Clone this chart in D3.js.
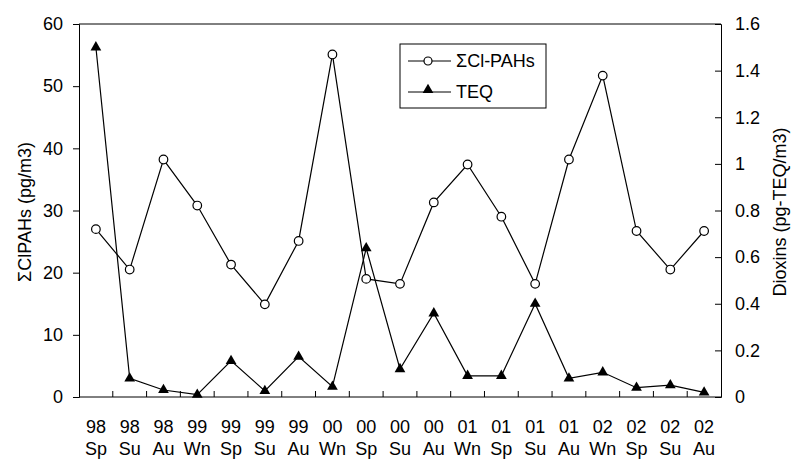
<!DOCTYPE html>
<html>
<head>
<meta charset="utf-8">
<script src="https://cdn.jsdelivr.net/npm/d3@7"></script>
<style>
  body { margin: 0; background: #fff; }
  svg text { font-family: "Liberation Sans", Arial, sans-serif; fill: #000; }
</style>
</head>
<body>
<div id="chart"></div>
<script>
var years   = ["98","98","98","99","99","99","99","00","00","00","00","01","01","01","01","02","02","02","02"]
var seasons = ["Sp","Su","Au","Wn","Sp","Su","Au","Wn","Sp","Su","Au","Wn","Sp","Su","Au","Wn","Sp","Su","Au"]
var clpahs  = [27, 20.5, 38.2, 30.8, 21.3, 14.9, 25.1, 55.1, 19.0, 18.2, 31.3, 37.4, 29.0, 18.2, 38.2, 51.7, 26.7, 20.5, 26.7]
var teq     = [1.5, 0.08, 0.03, 0.01, 0.155, 0.026, 0.173, 0.044, 0.638, 0.12, 0.359, 0.091, 0.091, 0.4, 0.08, 0.106, 0.04, 0.051, 0.02]
var leftTicks  = [0, 10, 20, 30, 40, 50, 60]
var rightTicks = [0, 0.2, 0.4, 0.6, 0.8, 1, 1.2, 1.4, 1.6]

var width = 792, height = 459
var margin = {top: 24, right: 71, bottom: 62, left: 79}
var w = width - margin.left - margin.right,
    h = height - margin.top - margin.bottom

var svg = d3.select("#chart").append("svg")
    .attr("width", width).attr("height", height)
var g = svg.append("g")
    .attr("transform", "translate(" + margin.left + "," + margin.top + ")")

var idx = d3.range(years.length)
var x = d3.scaleBand().domain(idx).range([0, w])
var yL = d3.scaleLinear().domain([0, 60]).range([h, 0])
var yR = d3.scaleLinear().domain([0, 1.6]).range([h, 0])
var cx = function(i) { return x(i) + x.bandwidth() / 2 }

// frame top line
g.append("line").attr("x1", 0).attr("x2", w).attr("y1", 0).attr("y2", 0)
  .attr("stroke", "#000").attr("stroke-width", 1)

// left axis
var ax = g.append("g")
  .call(d3.axisLeft(yL).tickValues(leftTicks).tickSize(6).tickPadding(10))
ax.selectAll("text").style("font-size", "18px")

// right axis
var ar = g.append("g").attr("transform", "translate(" + w + ",0)")
  .call(d3.axisRight(yR).tickValues(rightTicks).tickSize(-6).tickPadding(14)
    .tickFormat(function(d) { return String(d) }))
ar.selectAll("text").style("font-size", "18px")

// bottom axis: ticks between categories, pointing up
var ab = g.append("g").attr("transform", "translate(0," + h + ")")
ab.append("line").attr("x1", 0).attr("x2", w).attr("stroke", "#000")
ab.selectAll(".tk").data(d3.range(1, years.length)).enter().append("line")
  .attr("x1", function(i) { return x(i) }).attr("x2", function(i) { return x(i) })
  .attr("y1", 0).attr("y2", -6).attr("stroke", "#000")
var lbl = ab.selectAll(".lb").data(idx).enter().append("text")
  .attr("text-anchor", "middle").style("font-size", "18px")
lbl.append("tspan").attr("x", cx).attr("y", 36).text(function(i) { return years[i] })
lbl.append("tspan").attr("x", cx).attr("y", 58).text(function(i) { return seasons[i] })

// lines
var lineL = d3.line().x(function(d, i) { return cx(i) }).y(function(d) { return yL(d) })
var lineR = d3.line().x(function(d, i) { return cx(i) }).y(function(d) { return yR(d) })
g.append("path").attr("d", lineL(clpahs)).attr("fill", "none").attr("stroke", "#000").attr("stroke-width", 1.2)
g.append("path").attr("d", lineR(teq)).attr("fill", "none").attr("stroke", "#000").attr("stroke-width", 1.2)

var tri = d3.symbol().type(d3.symbolTriangle).size(50)
g.selectAll(".tri").data(teq).enter().append("path")
  .attr("d", tri)
  .attr("transform", function(d, i) { return "translate(" + cx(i) + "," + yR(d) + ")" })
  .attr("fill", "#000")
g.selectAll(".circ").data(clpahs).enter().append("circle")
  .attr("cx", function(d, i) { return cx(i) }).attr("cy", function(d) { return yL(d) })
  .attr("r", 4.3).attr("fill", "#fff").attr("stroke", "#000").attr("stroke-width", 1.2)

// axis titles
svg.append("text").attr("transform", "translate(31,212) rotate(-90)")
  .attr("text-anchor", "middle").style("font-size", "18px")
  .text("\u03A3ClPAHs (pg/m3)")
svg.append("text").attr("transform", "translate(786,212) rotate(-90)")
  .attr("text-anchor", "middle").style("font-size", "18px")
  .text("Dioxins (pg-TEQ/m3)")

// legend
var lg = svg.append("g").attr("transform", "translate(400,44)")
lg.append("rect").attr("width", 146).attr("height", 64)
  .attr("fill", "#fff").attr("stroke", "#000").attr("stroke-width", 1)
lg.append("line").attr("x1", 8).attr("x2", 51).attr("y1", 17).attr("y2", 17).attr("stroke", "#000")
lg.append("circle").attr("cx", 28).attr("cy", 17).attr("r", 4).attr("fill", "#fff").attr("stroke", "#000").attr("stroke-width", 1.2)
lg.append("line").attr("x1", 8).attr("x2", 51).attr("y1", 48).attr("y2", 48).attr("stroke", "#000")
lg.append("path").attr("d", tri).attr("transform", "translate(28,46)").attr("fill", "#000")
lg.append("text").attr("x", 56).attr("y", 23).style("font-size", "18px").text("\u03A3Cl-PAHs")
lg.append("text").attr("x", 56).attr("y", 54).style("font-size", "18px").text("TEQ")
</script>
</body>
</html>
